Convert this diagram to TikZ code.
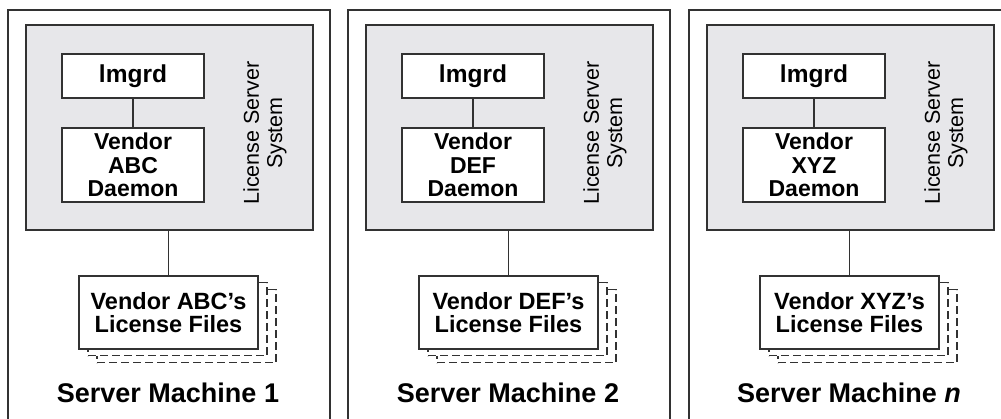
\documentclass[tikz,border=0pt]{standalone}
\usepackage{fontspec}
\setmainfont{Liberation Sans}
\definecolor{lssgray}{RGB}{231,231,234}
\definecolor{linegray}{RGB}{50,50,50}
\tikzset{
  frame/.style={draw=linegray, line width=1.4pt},
  lss/.style={draw=linegray, line width=1.7pt, fill=lssgray, minimum width=287pt, minimum height=205pt},
  daemon/.style={draw=linegray, line width=1.7pt, fill=white, minimum width=142pt, inner sep=0pt,
    align=center, font=\bfseries\fontsize{23}{23.3}\selectfont},
  files/.style={draw=linegray, line width=1.7pt, fill=white, minimum width=179pt, minimum height=73pt,
    inner sep=0pt, align=center, font=\bfseries\fontsize{23.5}{23.3}\selectfont},
  filecopy/.style={files, line width=1.4pt, dash pattern=on 8pt off 4pt},
  lsslabel/.style={rotate=90, align=center, font=\fontsize{21.5}{23.3}\selectfont},
  machine/.style={anchor=base, font=\bfseries\fontsize{27}{30}\selectfont},
  link/.style={draw=linegray, line width=1.8pt}
}
\begin{document}
\begin{tikzpicture}[x=1pt,y=-1pt]
  \useasboundingbox (0,0) rectangle (1001,418);
  \clip (0,0) rectangle (1001,418);
  % server machine 1
  \begin{scope}
    \draw[frame] (8,430) -- (8,10) -- (330,10) -- (330,430);
    \node[lss] (lss1) at (169.5,127.5) {};
    \node[daemon, minimum height=44pt, font=\bfseries\fontsize{24.5}{25}\selectfont] (lmgrd1) at (133,76) {lmgrd};
    \node[daemon, minimum height=74pt] (vendor1) at (133,165) {Vendor\\ABC\\Daemon};
    \node[lsslabel] (lsstext1) at (265,133) {License Server\\System};
    \node[filecopy] (copyb1) at (186.5,326) {};
    \node[filecopy] (copya1) at (177.5,319) {};
    \node[files] (files1) at (168.5,312.5) {Vendor ABC's\\License Files};
    \node[machine] (machine1) at (168,402.5) {Server Machine 1};
    \draw[link] (lmgrd1) -- (vendor1);
    \draw[link] (files1.north |- lss1.south) -- (files1.north);
  \end{scope}
  % server machine 2
  \begin{scope}[shift={(340,0)}]
    \draw[frame] (8,430) -- (8,10) -- (330,10) -- (330,430);
    \node[lss] (lss2) at (169.5,127.5) {};
    \node[daemon, minimum height=44pt, font=\bfseries\fontsize{24.5}{25}\selectfont] (lmgrd2) at (133,76) {lmgrd};
    \node[daemon, minimum height=74pt] (vendor2) at (133,165) {Vendor\\DEF\\Daemon};
    \node[lsslabel] (lsstext2) at (265,133) {License Server\\System};
    \node[filecopy] (copyb2) at (186.5,326) {};
    \node[filecopy] (copya2) at (177.5,319) {};
    \node[files] (files2) at (168.5,312.5) {Vendor DEF's\\License Files};
    \node[machine] (machine2) at (168,402.5) {Server Machine 2};
    \draw[link] (lmgrd2) -- (vendor2);
    \draw[link] (files2.north |- lss2.south) -- (files2.north);
  \end{scope}
  % server machine n
  \begin{scope}[shift={(681,0)}]
    \draw[frame] (8,430) -- (8,10) -- (330,10) -- (330,430);
    \node[lss] (lss3) at (169.5,127.5) {};
    \node[daemon, minimum height=44pt, font=\bfseries\fontsize{24.5}{25}\selectfont] (lmgrd3) at (133,76) {lmgrd};
    \node[daemon, minimum height=74pt] (vendor3) at (133,165) {Vendor\\XYZ\\Daemon};
    \node[lsslabel] (lsstext3) at (265,133) {License Server\\System};
    \node[filecopy] (copyb3) at (186.5,326) {};
    \node[filecopy] (copya3) at (177.5,319) {};
    \node[files] (files3) at (168.5,312.5) {Vendor XYZ's\\License Files};
    \node[machine] (machine3) at (168,402.5) {Server Machine \textit{n}};
    \draw[link] (lmgrd3) -- (vendor3);
    \draw[link] (files3.north |- lss3.south) -- (files3.north);
  \end{scope}
\end{tikzpicture}
\end{document}
